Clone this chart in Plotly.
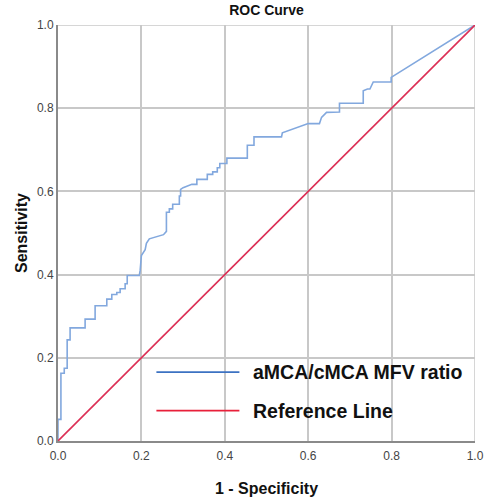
import plotly.graph_objects as go

# ROC curve vertices (1 - specificity, sensitivity)
fpr = [0.0, 0.0, 0.007, 0.007, 0.015, 0.015, 0.022, 0.022, 0.029, 0.029,
       0.065, 0.065, 0.089, 0.089, 0.117, 0.117, 0.129, 0.129, 0.141, 0.141,
       0.149, 0.149, 0.161, 0.161, 0.166, 0.166, 0.195, 0.197, 0.200, 0.209,
       0.212, 0.219, 0.253, 0.260, 0.260, 0.267, 0.267, 0.275, 0.275, 0.291,
       0.291, 0.294, 0.294, 0.300, 0.321, 0.333, 0.333, 0.358, 0.358, 0.371,
       0.371, 0.382, 0.382, 0.388, 0.388, 0.405, 0.405, 0.454, 0.454, 0.470,
       0.470, 0.536, 0.538, 0.600, 0.627, 0.632, 0.644, 0.675, 0.675, 0.732,
       0.732, 0.742, 0.748, 0.756, 0.799, 0.799, 1.0]
tpr = [0.0, 0.052, 0.052, 0.163, 0.163, 0.175, 0.175, 0.243, 0.243, 0.272,
       0.272, 0.293, 0.293, 0.325, 0.325, 0.341, 0.341, 0.352, 0.352, 0.357,
       0.357, 0.366, 0.366, 0.378, 0.378, 0.398, 0.398, 0.410, 0.446, 0.460,
       0.475, 0.486, 0.496, 0.504, 0.550, 0.550, 0.558, 0.558, 0.569, 0.569,
       0.589, 0.589, 0.605, 0.609, 0.617, 0.617, 0.629, 0.629, 0.641, 0.641,
       0.647, 0.647, 0.657, 0.657, 0.667, 0.667, 0.680, 0.680, 0.711, 0.711,
       0.731, 0.731, 0.741, 0.763, 0.763, 0.778, 0.790, 0.791, 0.812, 0.812,
       0.842, 0.846, 0.846, 0.863, 0.863, 0.874, 1.0]

ref_x = [0.0, 1.0]
ref_y = [0.0, 1.0]

tick_vals = [0.0, 0.2, 0.4, 0.6, 0.8, 1.0]
tick_text = ["0.0", "0.2", "0.4", "0.6", "0.8", "1.0"]

legend_names = ["aMCA/cMCA MFV ratio", "Reference Line"]
legend_colors = ["#3c72c2", "#e8203a"]

FONT = "Arial, Liberation Sans, sans-serif"

fig = go.Figure()
fig.add_trace(go.Scatter(x=fpr, y=tpr, mode="lines",
                         line=dict(color="#82a8de", width=1.6),
                         showlegend=False, hoverinfo="skip"))
fig.add_trace(go.Scatter(x=ref_x, y=ref_y, mode="lines",
                         line=dict(color="#dc2f55", width=1.6),
                         showlegend=False, hoverinfo="skip"))

# manual legend (transparent, inside plot)
leg_y = [0.1655, 0.073]
for name, col, yy in zip(legend_names, legend_colors, leg_y):
    fig.add_shape(type="line", xref="x", yref="y", x0=0.236, x1=0.435,
                  y0=yy, y1=yy, line=dict(color=col, width=1.6))
    fig.add_annotation(x=0.462, y=yy, xref="x", yref="y", text=f"<b>{name}</b>",
                       showarrow=False, xanchor="left", yanchor="middle",
                       font=dict(family=FONT, size=19.5, color="#111111"))

# light border top/right like grid
fig.add_shape(type="line", xref="x", yref="y", x0=0, x1=1, y0=1, y1=1,
              line=dict(color="#c8c8c8", width=1.5), layer="below")
fig.add_shape(type="line", xref="x", yref="y", x0=1, x1=1, y0=0, y1=1,
              line=dict(color="#c8c8c8", width=1.5), layer="below")

axis_common = dict(range=[0, 1], tickvals=tick_vals, ticktext=tick_text,
                   showgrid=True, gridcolor="#c8c8c8", gridwidth=1.5,
                   showline=True, linecolor="#8a8a8a", linewidth=2,
                   zeroline=False, ticks="", automargin=False,
                   tickfont=dict(family=FONT, size=12, color="#444444"))

fig.update_layout(
    width=487, height=500,
    paper_bgcolor="white", plot_bgcolor="white",
    margin=dict(l=58, r=12, t=25, b=59, autoexpand=False),
    title=dict(text="<b>ROC Curve</b>", x=0.5, xref="paper", y=0.98,
               yref="container", xanchor="center", yanchor="middle",
               font=dict(family=FONT, size=14, color="#111111")),
    xaxis=dict(**axis_common, ticklabelstandoff=3,
               title=dict(text="<b>1 - Specificity</b>", standoff=20,
                          font=dict(family=FONT, size=16, color="#111111"))),
    yaxis=dict(**axis_common,
               title=dict(text="<b>Sensitivity</b>", standoff=5,
                          font=dict(family=FONT, size=16, color="#111111"))),
)

fig.write_html("out.html", config={"displayModeBar": False},
               post_script="document.body.style.margin='0';"
                           "document.body.style.overflow='hidden';")
